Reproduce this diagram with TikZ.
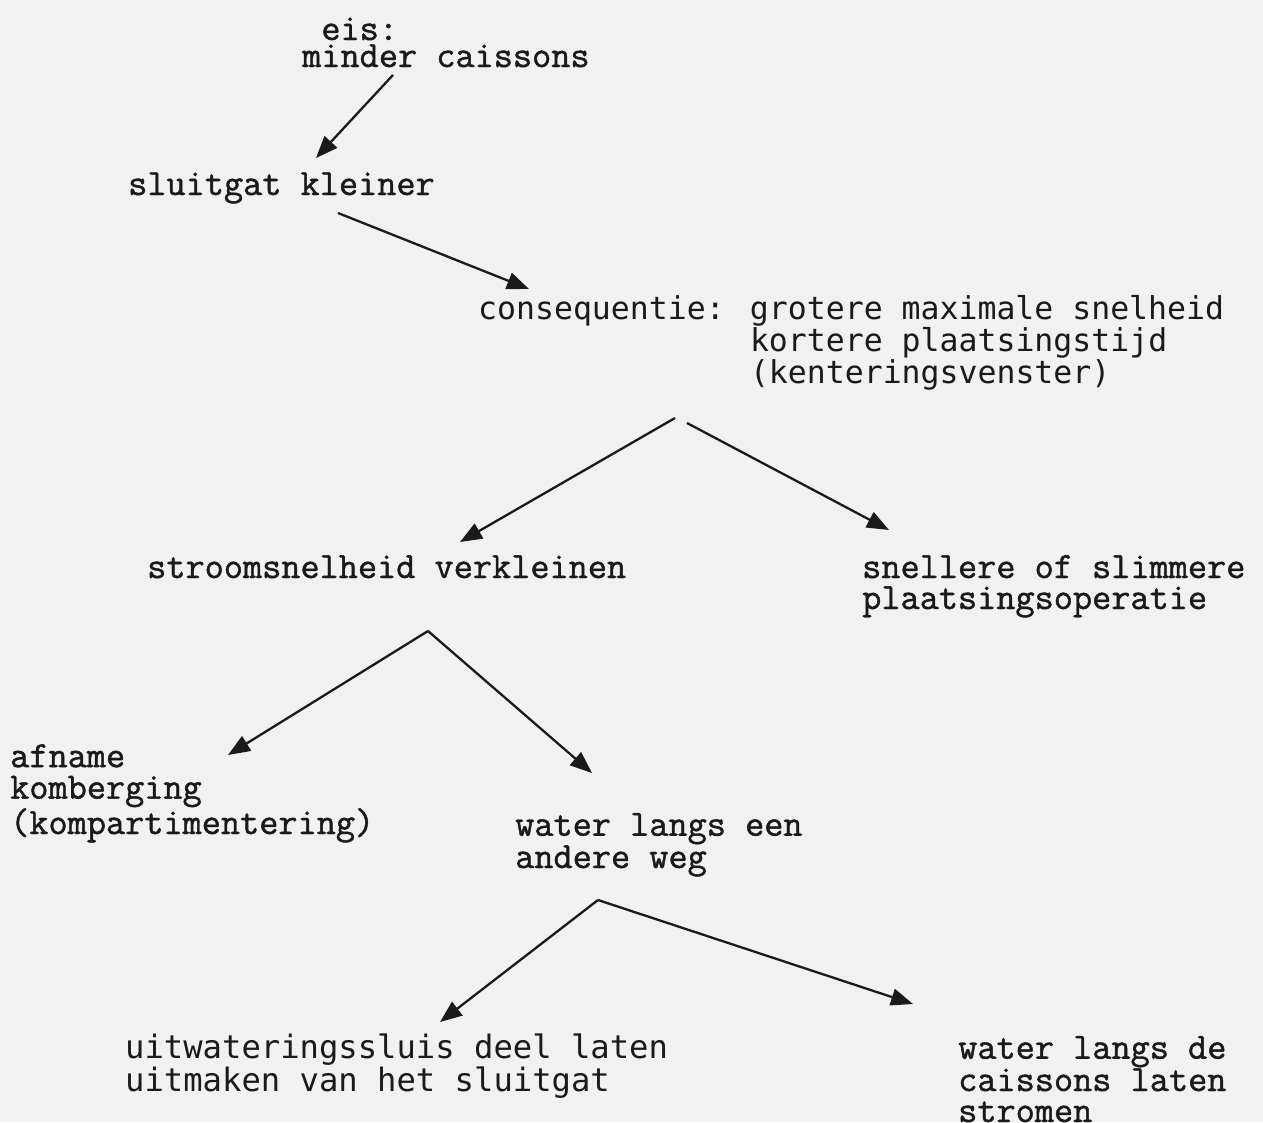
\documentclass[tikz,border=0pt]{standalone}
\usepackage{fontspec}
\newfontfamily\sansmono{DejaVu Sans Mono}
\newfontfamily\serifmono{Latin Modern Mono}[FakeBold=1.2]
\usetikzlibrary{arrows.meta}
\definecolor{ink}{HTML}{1A1A1A}
\definecolor{paper}{HTML}{F1F1F1}
\tikzset{
  serif/.style={anchor=base west, inner sep=0pt, align=left, text=ink,
    font=\serifmono\fontsize{37.2}{31}\selectfont},
  sansm/.style={anchor=base west, inner sep=0pt, align=left, text=ink,
    font=\sansmono\fontsize{31.5}{31}\selectfont},
  arr/.style={draw=ink, line width=2.3pt, -{Triangle[length=22pt,width=17pt]}}
}
\begin{document}
\begin{tikzpicture}[x=1pt,y=-1pt]
\fill[paper] (0,0) rectangle (1263,1122);
\useasboundingbox (0,0) rectangle (1263,1122);

% multi-line nodes: the base anchor sits on the last line's baseline
\node[serif, font=\serifmono\fontsize{37.2}{27}\selectfont] (eis) at (302,67) {\phantom{m}eis:\\minder caissons};
\node[serif] (sluit) at (128,195) {sluitgat kleiner};
\node[sansm, font=\sansmono\fontsize{31.5}{30.5}\selectfont] (cons) at (478,383)
  {consequentie: grotere maximale snelheid\\\phantom{consequentie: }kortere plaatsingstijd\\\phantom{consequentie: }(kenteringsvenster)};
\node[serif] (stroom) at (147,578) {stroomsnelheid verkleinen};
\node[serif] (snel) at (862,609) {snellere of slimmere\\plaatsingsoperatie};
\node[serif, font=\serifmono\fontsize{37.2}{31.5}\selectfont] (afname) at (10,834) {afname\\komberging\\(kompartimentering)};
\node[serif] (water) at (515,868) {water langs een\\andere weg};
\node[sansm, font=\sansmono\fontsize{32.2}{31}\selectfont] (uitw) at (125,1091) {uitwateringssluis deel laten\\uitmaken van het sluitgat};
\node[serif] (langs) at (958,1122) {water langs de\\caissons laten\\stromen};

\coordinate (a1s) at (393,75);   \coordinate (a1e) at (316,158);
\coordinate (a2s) at (338,213);  \coordinate (a2e) at (529,289);
\coordinate (a3s) at (675,418);  \coordinate (a3e) at (460,542);
\coordinate (a4s) at (687,423);  \coordinate (a4e) at (889,530);
\coordinate (a5s) at (428,631);  \coordinate (a5e) at (228,755);
\coordinate (a6e) at (592,773);
\coordinate (a7s) at (598,900);  \coordinate (a7e) at (440,1022);
\coordinate (a8e) at (913,1004);

\draw[arr] (a1s) -- (a1e);
\draw[arr] (a2s) -- (a2e);
\draw[arr] (a3s) -- (a3e);
\draw[arr] (a4s) -- (a4e);
\draw[arr] (a5s) -- (a5e);
\draw[arr] (a5s) -- (a6e);
\draw[arr] (a7s) -- (a7e);
\draw[arr] (a7s) -- (a8e);
\end{tikzpicture}
\end{document}
